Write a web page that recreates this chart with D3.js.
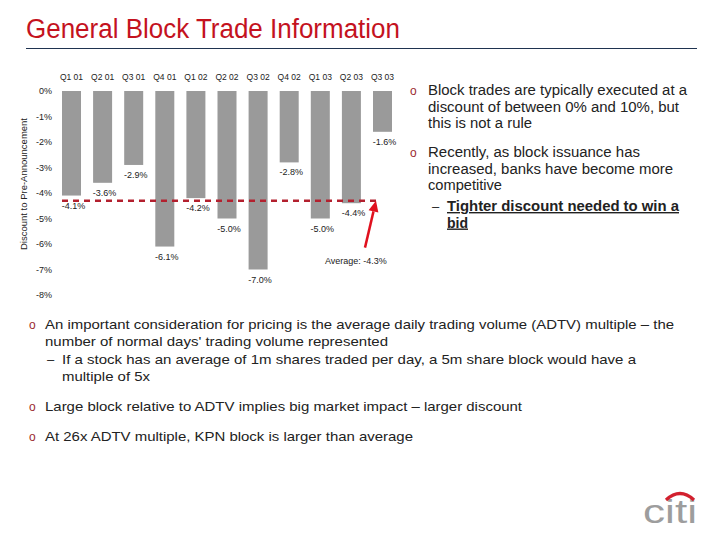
<!DOCTYPE html>
<html><head><meta charset="utf-8">
<script src="https://cdn.jsdelivr.net/npm/d3@7"></script>
<style>body{margin:0;background:#fff}svg{display:block;font-family:"Liberation Sans",Arial,sans-serif}</style>
</head><body><svg id="c" width="720" height="540"></svg>
<script>
const categories = ["Q1 01","Q2 01","Q3 01","Q4 01","Q1 02","Q2 02","Q3 02","Q4 02","Q1 03","Q2 03","Q3 03"];
const discounts = [-4.1,-3.6,-2.9,-6.1,-4.2,-5.0,-7.0,-2.8,-5.0,-4.4,-1.6];
const averageDiscount = -4.3;
const yTicks = [0,-1,-2,-3,-4,-5,-6,-7,-8];
const titleText = "General Block Trade Information";
const yAxisTitle = "Discount to Pre-Announcement";
const rightBullets = [
  {kind:"o", lines:["Block trades are typically executed at a","discount of between 0% and 10%, but","this is not a rule"]},
  {kind:"o", lines:["Recently, as block issuance has","increased, banks have become more","competitive"]},
  {kind:"–", lines:["Tighter discount needed to win a","bid"]}
];
const bottomBullets = [
  {kind:"o", lines:["An important consideration for pricing is the average daily trading volume (ADTV) multiple – the","number of normal days' trading volume represented"]},
  {kind:"–", lines:["If a stock has an average of 1m shares traded per day, a 5m share block would have a","multiple of 5x"]},
  {kind:"o", lines:["Large block relative to ADTV implies big market impact – larger discount"]},
  {kind:"o", lines:["At 26x ADTV multiple, KPN block is larger than average"]}
];

const svg = d3.select("#c");
const red = "#c4121e";

// Title
svg.append("text").attr("x",26).attr("y",38).attr("font-size",27).attr("fill",red)
  .attr("textLength",374).attr("lengthAdjust","spacingAndGlyphs").text(titleText);
svg.append("line").attr("x1",26).attr("x2",697).attr("y1",48.5).attr("y2",48.5)
  .attr("stroke","#1f3350").attr("stroke-width",1.2);

// Scales
const x = d3.scaleBand().domain(categories).range([55.95,398.05]).paddingInner(0.389).paddingOuter(0.1945);
const y = d3.scaleLinear().domain([0,-8]).range([91,295]);

// Y axis labels
const yAxis = svg.append("g").attr("transform","translate(52,0)")
  .call(d3.axisLeft(y).tickValues(yTicks).tickSize(0).tickPadding(0).tickFormat(d => d + "%"));
yAxis.select(".domain").remove();
yAxis.selectAll("text").attr("font-size",9).attr("fill","#222").attr("font-family","Liberation Sans, Arial");

svg.append("text").attr("transform","translate(27,184) rotate(-90)").attr("text-anchor","middle")
  .attr("font-size",9.5).attr("fill","#222").text(yAxisTitle);

// Category labels (top axis)
const xAxis = svg.append("g").attr("transform","translate(0,80)")
  .call(d3.axisTop(x).tickSize(0).tickPadding(0));
xAxis.select(".domain").remove();
xAxis.selectAll("text").attr("font-size",8.5).attr("fill","#222").attr("font-family","Liberation Sans, Arial");

// Bars
svg.append("g").selectAll("rect").data(discounts).join("rect")
  .attr("x",(d,i)=>x(categories[i])).attr("width",x.bandwidth())
  .attr("y",y(0)).attr("height",d=>y(d)-y(0)).attr("fill","#9a9a9a");

// Value labels
svg.append("g").selectAll("text").data(discounts).join("text")
  .attr("x",(d,i)=>x(categories[i])+x.bandwidth()/2+2)
  .attr("y",d=>y(d)+13).attr("text-anchor","middle").attr("font-size",9).attr("fill","#222")
  .text(d=>d.toFixed(1)+"%");

// Average line
svg.append("line").attr("x1",x(categories[0])).attr("x2",x(categories[10])+3)
  .attr("y1",y(averageDiscount)).attr("y2",y(averageDiscount))
  .attr("stroke","#b3202e").attr("stroke-width",2.5).attr("stroke-dasharray","6,5");

// Arrow
const tipX = x(categories[10])+3, tipY = y(averageDiscount);
const tailX = tipX-11, tailY = tipY+47;
const ang = Math.atan2(tipY-tailY, tipX-tailX);
const hl = 11, hw = 5;
const bx = tipX - hl*Math.cos(ang), by = tipY - hl*Math.sin(ang);
svg.append("line").attr("x1",tailX).attr("y1",tailY).attr("x2",bx).attr("y2",by)
  .attr("stroke","#e0101e").attr("stroke-width",2.5);
svg.append("path").attr("d",`M${tipX},${tipY}L${bx+hw*Math.sin(ang)},${by-hw*Math.cos(ang)}L${bx-hw*Math.sin(ang)},${by+hw*Math.cos(ang)}Z`)
  .attr("fill","#e0101e");
svg.append("text").attr("x",325).attr("y",264).attr("font-size",9).attr("fill","#222")
  .text("Average: " + averageDiscount.toFixed(1) + "%");

// Right bullets
const bulletColor = "#9b2a2f";
const rightStarts = [95,157,211];
const rightWidths = [[259,251,104],[212,245,74],[232,21]];
rightBullets.forEach((b,bi)=>{
  const isSub = b.kind === "–";
  const tx = isSub ? 447 : 428;
  if (isSub) svg.append("text").attr("x",432).attr("y",rightStarts[bi]).attr("font-size",13).attr("fill","#222").text("–");
  else svg.append("text").attr("x",410).attr("y",rightStarts[bi]).attr("font-size",12).attr("fill",bulletColor).text("o");
  b.lines.forEach((l,li)=>{
    const t = svg.append("text").attr("x",tx).attr("y",rightStarts[bi]+li*16.5).attr("font-size",14).attr("fill","#222")
      .attr("textLength",rightWidths[bi][li]).attr("lengthAdjust","spacingAndGlyphs").text(l);
    if (isSub) t.attr("font-weight","bold").attr("text-decoration","underline");
  });
});

// Bottom bullets
const bottomStarts = [329,364,411,441];
const bottomWidths = [[629,343],[574,88],[477],[368]];
bottomBullets.forEach((b,bi)=>{
  const isSub = b.kind === "–";
  const tx = isSub ? 62 : 45;
  if (isSub) svg.append("text").attr("x",47).attr("y",bottomStarts[bi]).attr("font-size",13).attr("fill","#222").text("–");
  else svg.append("text").attr("x",29).attr("y",bottomStarts[bi]).attr("font-size",12).attr("fill",bulletColor).text("o");
  b.lines.forEach((l,li)=>{
    svg.append("text").attr("x",tx).attr("y",bottomStarts[bi]+li*16.5).attr("font-size",13.5).attr("fill","#222")
      .attr("textLength",bottomWidths[bi][li]).attr("lengthAdjust","spacingAndGlyphs").text(l);
  });
});

// Citi logo
svg.append("text").attr("x",643).attr("y",523).attr("font-size",34).attr("fill","#9d9d9d")
  .attr("textLength",54).attr("lengthAdjust","spacingAndGlyphs").text("citi");
svg.append("path").attr("d","M666,500 Q680,487 694,500").attr("fill","none").attr("stroke","#d2202e").attr("stroke-width",3.2);
</script></body></html>
